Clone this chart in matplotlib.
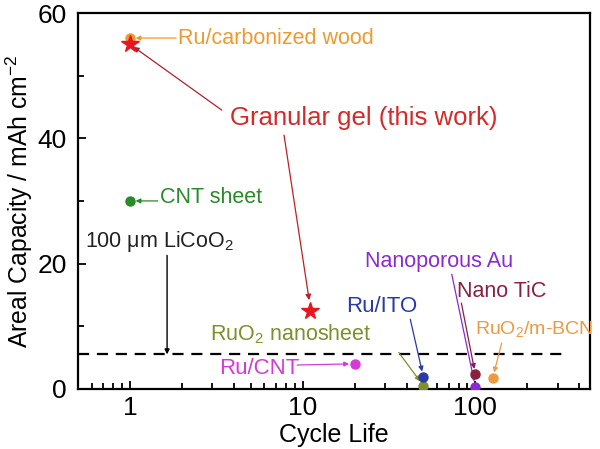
import matplotlib
matplotlib.use('Agg')
import matplotlib.pyplot as plt
from matplotlib.ticker import LogLocator, NullFormatter, FixedLocator

plt.rcParams['font.family'] = ['Liberation Sans', 'DejaVu Sans']
plt.rcParams['mathtext.fontset'] = 'custom'
plt.rcParams['mathtext.rm'] = 'Liberation Sans'
plt.rcParams['mathtext.it'] = 'Liberation Sans:italic'

# data points (cycle life, areal capacity)
names = ['Ru/carbonized wood', 'CNT sheet', 'Ru/CNT', 'RuO$_2$ nanosheet', 'Ru/ITO',
         'Nanoporous Au', 'Nano TiC', 'RuO$_2$/m-BCN']
cycles = [1, 1, 20, 50, 50, 100, 100, 126]
capacity = [56, 30, 4.0, 0.5, 1.9, 0.3, 2.3, 1.75]
colors = ['#ee9a2e', '#2a8a2a', '#d63ad6', '#7f8f2a', '#2a3aa8', '#8a2ad0', '#8a2040', '#ee9a40']

# this work
gel_cycles = [1, 11]
gel_capacity = [55, 12.5]

licoo2_capacity = 5.5

# label positions (data coords) and arrow starts
label_xy = [(1.9, 56), (1.5, 30.6), (3.3, 3.3), (2.9, 8.8), (28.6, 13.1),
            (62, 20.3), (143, 15.6), (218, 9.6)]
label_ha = ['left', 'left', 'left', 'left', 'center', 'center', 'center', 'center']
label_size = [15.5, 15.5, 16, 15.5, 16, 15.5, 15.5, 14]
arrow_from = [(1.85, 56), (1.45, 30), (9.3, 3.8), (36, 5.8), (42, 11.1),
              (73, 18.3), (83, 13.7), (142, 7.3)]

fig = plt.figure(figsize=(6, 4.49), dpi=100)
ax = fig.add_axes([0.13, 0.134, 0.853, 0.837])

ax.set_xscale('log')
ax.set_xlim(0.5, 460)
ax.set_ylim(0, 60)

# dashed LiCoO2 line
ax.plot([0.5, 340], [licoo2_capacity, licoo2_capacity], '--', color='black', lw=1.6,
        dashes=(5, 3.5))

for x, y, c in zip(cycles, capacity, colors):
    ax.plot(x, y, 'o', color=c, ms=6.5, zorder=4)
ax.plot(gel_cycles, gel_capacity, '*', color='#e8161e', ms=13, ls='none', zorder=5)

for n, (tx, ty), ha, fs, (sx, sy), x, y, c in zip(names, label_xy, label_ha, label_size,
                                                  arrow_from, cycles, capacity, colors):
    ax.text(tx, ty, n, color=c, fontsize=fs, ha=ha, va='center')
    ax.annotate('', xy=(x, y), xytext=(sx, sy),
                arrowprops=dict(arrowstyle='-|>', color=c, lw=0.9, mutation_scale=7,
                                shrinkA=0, shrinkB=4))

# granular gel label and arrows
ax.text(22.5, 43.2, 'Granular gel (this work)', color='#d42a2a', fontsize=18.5,
        ha='center', va='center')
ax.annotate('', xy=(gel_cycles[0], gel_capacity[0]), xytext=(3.4, 44.5),
            arrowprops=dict(arrowstyle='-|>', color='#b02030', lw=0.9, mutation_scale=8,
                            shrinkA=0, shrinkB=3))
ax.annotate('', xy=(gel_cycles[1], gel_capacity[1] + 1), xytext=(7.8, 40.5),
            arrowprops=dict(arrowstyle='-|>', color='#c02020', lw=0.9, mutation_scale=8,
                            shrinkA=0, shrinkB=3))

# LiCoO2 label
ax.text(0.55, 23.5, '100 \u03bcm LiCoO$_2$', color='#222222', fontsize=15.5,
        ha='left', va='center')
ax.annotate('', xy=(1.64, licoo2_capacity), xytext=(1.64, 21.3),
            arrowprops=dict(arrowstyle='-|>', color='black', lw=1.0, mutation_scale=7,
                            shrinkA=0, shrinkB=0))

ax.set_xlabel('Cycle Life', fontsize=18)
ax.xaxis.set_label_coords(0.5, -0.092)
ax.set_ylabel('Areal Capacity / mAh cm$^{-2}$', fontsize=17.8)
ax.yaxis.set_label_coords(-0.084, 0.5)

ax.xaxis.set_major_locator(FixedLocator([1, 10, 100]))
ax.set_xticklabels(['1', '10', '100'])
ax.xaxis.set_minor_locator(LogLocator(base=10, subs=range(2, 10)))
ax.xaxis.set_minor_formatter(NullFormatter())
ax.set_yticks([0, 20, 40, 60])
ax.set_yticks([10, 30, 50], minor=True)
ax.tick_params(which='both', direction='in', labelsize=19, width=1.3)
ax.tick_params(axis='x', pad=5)
ax.tick_params(axis='y', pad=8)
ax.tick_params(which='major', length=6)
ax.tick_params(which='minor', length=4)
for s in ax.spines.values():
    s.set_linewidth(1.6)

fig.savefig('out.png', dpi=100)
